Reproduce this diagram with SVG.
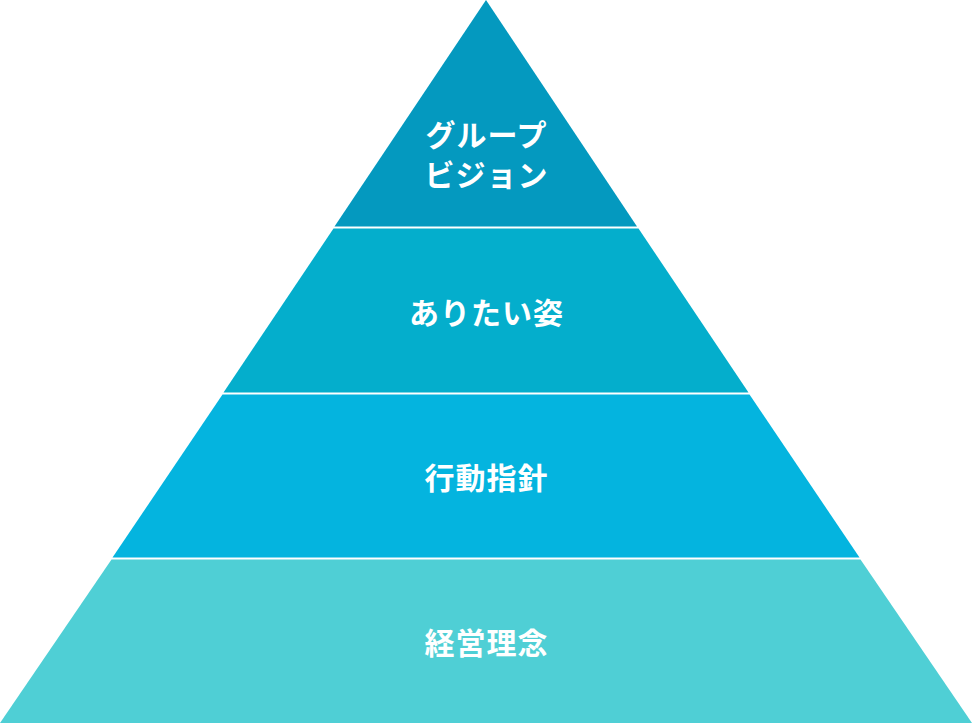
<svg xmlns="http://www.w3.org/2000/svg" width="972" height="723" viewBox="0 0 972 723">
<style>
.t{font-family:"Noto Sans CJK JP","Noto Sans CJK SC",sans-serif;font-weight:700;font-size:30px;fill:#fff;text-anchor:middle;letter-spacing:1px}
</style>
<rect width="972" height="723" fill="#fff"/>
<g id="vision">
<polygon points="486,0 637,226.5 334.5,226.5" fill="#0499bf"/>
<text class="t" x="486.5" y="146">グループ</text>
<text class="t" x="486.5" y="186">ビジョン</text>
</g>
<g id="ideal">
<polygon points="333.5,228.5 638.5,228.5 748.5,392.5 223.5,392.5" fill="#04aecc"/>
<text class="t" x="486.5" y="324">ありたい姿</text>
</g>
<g id="conduct">
<polygon points="222.5,394.5 749.5,394.5 859.5,557.5 112.5,557.5" fill="#04b4df"/>
<text class="t" x="486.5" y="489">行動指針</text>
</g>
<g id="philosophy">
<polygon points="111.5,559.5 860.5,559.5 972,723 0,723" fill="#4fcfd5"/>
<text class="t" x="486.5" y="654">経営理念</text>
</g>
<g id="connectors"></g>
</svg>
